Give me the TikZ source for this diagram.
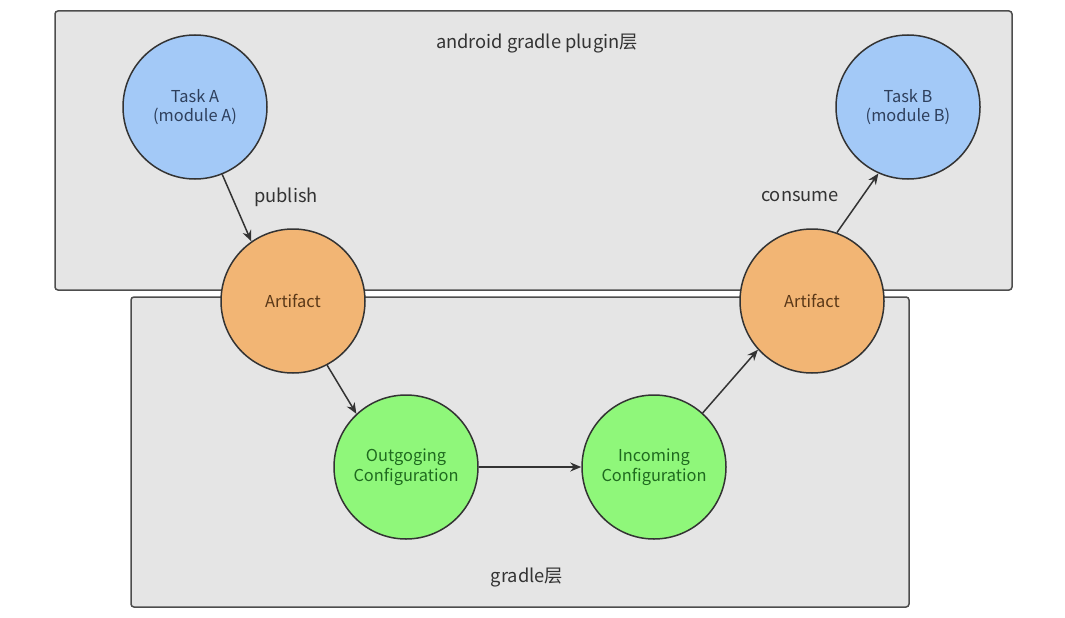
\documentclass[tikz,border=0pt]{standalone}
\usepackage{fontspec}
\setmainfont{Noto Sans CJK SC}
\usetikzlibrary{arrows.meta}
\definecolor{boxfill}{HTML}{E5E5E5}
\definecolor{boxline}{HTML}{4D4D4D}
\definecolor{bluefill}{HTML}{A3C9F7}
\definecolor{orangefill}{HTML}{F2B574}
\definecolor{greenfill}{HTML}{8FF77A}
\definecolor{bluetext}{HTML}{2E3F5C}
\definecolor{browntext}{HTML}{5A3818}
\definecolor{greentext}{HTML}{1F6A1F}
\definecolor{labeltext}{HTML}{333333}
\definecolor{arrowcol}{HTML}{333333}
\tikzset{
  layerbox/.style={draw=boxline, fill=boxfill, line width=1.5pt, rounded corners=3pt},
  bubble/.style={circle, draw=black!80, line width=1.5pt, minimum size=144pt, inner sep=0pt, align=center, font=\fontsize{16.4}{19.5}\selectfont},
  taskbubble/.style={bubble, fill=bluefill, text=bluetext},
  artbubble/.style={bubble, fill=orangefill, text=browntext},
  cfgbubble/.style={bubble, fill=greenfill, text=greentext},
  flow/.style={draw=arrowcol, line width=1.5pt, -{Stealth[length=11pt,width=9pt]}},
  lbl/.style={text=labeltext, font=\fontsize{18.3}{22}\selectfont},
}
\begin{document}
\begin{tikzpicture}[x=1pt,y=-1pt]
\useasboundingbox (0,0) rectangle (1065,618);
\fill[white] (0,0) rectangle (1065,618);
\path[layerbox] (55,11) rectangle (1012,290);
\path[layerbox] (131,297) rectangle (909,607);
\node[lbl] (title) at (537,44) {android gradle plugin层};
\node[lbl] (gtitle) at (527,577) {gradle层};
\node[taskbubble] (taskA) at (195,107) {Task A\\(module A)};
\node[taskbubble] (taskB) at (908,107) {Task B\\(module B)};
\node[artbubble] (artL) at (293,301) {Artifact};
\node[artbubble] (artR) at (812,301) {Artifact};
\node[cfgbubble] (outg) at (406,467) {Outgoging\\Configuration};
\node[cfgbubble] (inc) at (654,467) {Incoming\\Configuration};
\node[lbl] (pub) at (286,197) {publish};
\node[lbl] (con) at (800,197) {consume};
\draw[flow] (taskA.-68) -- (artL.125);
\draw[flow] (artL.-62) -- (outg.133);
\draw[flow] (outg) -- (inc);
\draw[flow] (inc.48) -- (artR.222);
\draw[flow] (artR.70) -- (taskB.246);
\end{tikzpicture}
\end{document}
